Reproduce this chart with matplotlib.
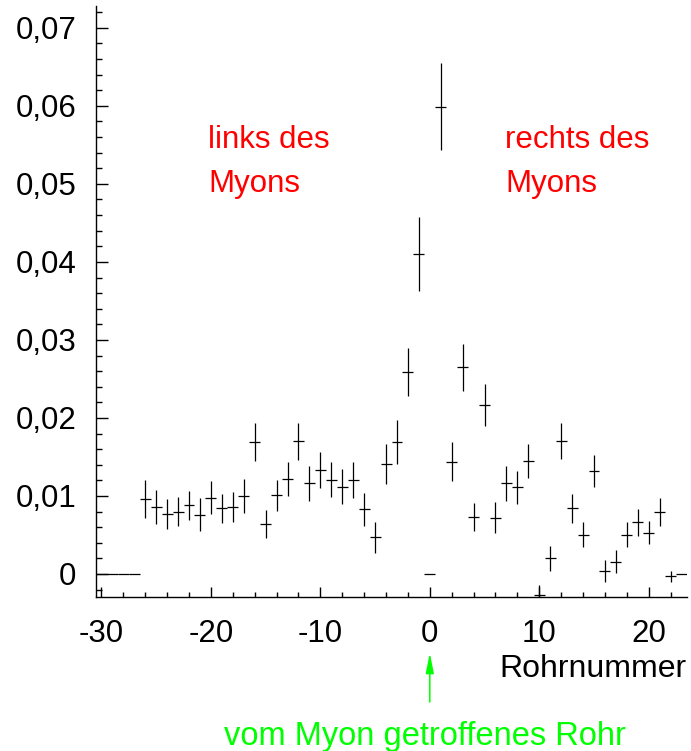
import matplotlib
matplotlib.use("Agg")
import matplotlib.pyplot as plt
from matplotlib.ticker import MultipleLocator, FuncFormatter
import numpy as np

plt.rcParams['font.family'] = ['Liberation Sans', 'DejaVu Sans']
plt.rcParams['axes.unicode_minus'] = False

# Data: bins centred on integer tube numbers (Rohrnummer)
tube = list(range(-30, 24))
values = [
    0.0, 0.0, 0.0, 0.0,                                  # -30..-27
    0.0096, 0.0086, 0.0077, 0.0080, 0.0088, 0.0076,      # -26..-21
    0.0098, 0.0084, 0.0086, 0.0100, 0.0169, 0.0064,      # -20..-15
    0.0101, 0.0122, 0.0170, 0.0116, 0.0133, 0.0121,      # -14..-9
    0.0112, 0.0121, 0.0083, 0.0047, 0.0141, 0.0169,      # -8..-3
    0.0259, 0.0410, 0.0, 0.0599, 0.0144, 0.0265,         # -2..3
    0.0073, 0.0217, 0.0072, 0.0116, 0.0111, 0.0145,      # 4..9
    -0.0027, 0.0020, 0.0170, 0.0084, 0.0050, 0.0132,     # 10..15
    0.0004, 0.0016, 0.0050, 0.0066, 0.0053, 0.0080,      # 16..21
    -0.0003, 0.0,                                        # 22..23
]
errors = [
    0.0, 0.0, 0.0, 0.0,
    0.0024, 0.0022, 0.0019, 0.0019, 0.0019, 0.0021,
    0.0021, 0.0019, 0.0019, 0.0022, 0.0024, 0.0018,
    0.0020, 0.0022, 0.0024, 0.0022, 0.0023, 0.0022,
    0.0022, 0.0023, 0.0021, 0.0020, 0.0026, 0.0028,
    0.0031, 0.0047, 0.0, 0.0056, 0.0025, 0.0030,
    0.0018, 0.0027, 0.0020, 0.0022, 0.0021, 0.0022,
    0.0013, 0.0016, 0.0023, 0.0019, 0.0016, 0.0020,
    0.0014, 0.0015, 0.0016, 0.0017, 0.0015, 0.0018,
    0.0007, 0.0,
]
bin_half_width = 0.5

x_label = "Rohrnummer"
left_text = "links des\nMyons"
right_text = "rechts des\nMyons"
arrow_text = "vom Myon getroffenes Rohr"

W, H = 691, 751
fig = plt.figure(figsize=(W / 100, H / 100), dpi=100)
ax = fig.add_axes([96 / W, 1 - 597 / H, (687 - 96) / W, (597 - 6) / H])

ax.errorbar(tube, values, yerr=errors, xerr=bin_half_width, fmt='none',
            ecolor='black', elinewidth=0.9, capsize=0)

ax.set_xlim(-30.5, 23.5)
ax.set_ylim(-0.00295, 0.0728)

for s in ['top', 'right']:
    ax.spines[s].set_visible(False)
for s in ['left', 'bottom']:
    ax.spines[s].set_linewidth(1.0)

ax.xaxis.set_major_locator(MultipleLocator(10))
ax.xaxis.set_minor_locator(MultipleLocator(2))
ax.yaxis.set_major_locator(MultipleLocator(0.01))
ax.yaxis.set_minor_locator(MultipleLocator(0.002))

ax.yaxis.set_major_formatter(FuncFormatter(
    lambda v, p: '0' if abs(v) < 1e-9 else f'{v:.2f}'.replace('.', ',')))
ax.xaxis.set_major_formatter(FuncFormatter(lambda v, p: f'{int(round(v))}'))

ax.tick_params(axis='x', which='major', direction='in', length=7.5, width=1.0,
               labelsize=22.5, pad=16)
ax.tick_params(axis='x', which='minor', direction='in', length=3.5, width=1.0)
ax.tick_params(axis='y', which='major', direction='in', length=8.5, width=1.0,
               labelsize=22.5, pad=14)
ax.tick_params(axis='y', which='minor', direction='in', length=4.5, width=1.0)

fig.text(687 / W, 1 - 677 / H, x_label, ha='right', va='baseline', fontsize=23)

fig.text(208 / W, 1 - 192 / H, left_text, ha='left', va='baseline',
         fontsize=22.5, color='#ff0000', linespacing=1.62)
fig.text(505 / W, 1 - 192 / H, right_text, ha='left', va='baseline',
         fontsize=22.5, color='#ff0000', linespacing=1.62)

ax.annotate('', xy=(0, 1 - 653 / H), xytext=(0, 1 - 702 / H),
            xycoords=('data', 'figure fraction'),
            textcoords=('data', 'figure fraction'),
            annotation_clip=False,
            arrowprops=dict(arrowstyle='-|>,head_length=0.6,head_width=0.12',
                            color='#00ff00', lw=1.1, mutation_scale=20,
                            shrinkA=0, shrinkB=0))

fig.text(425 / W, 1 - 745 / H, arrow_text, ha='center', va='baseline',
         fontsize=23.5, color='#00ff00')

fig.savefig('out.png', dpi=100)
